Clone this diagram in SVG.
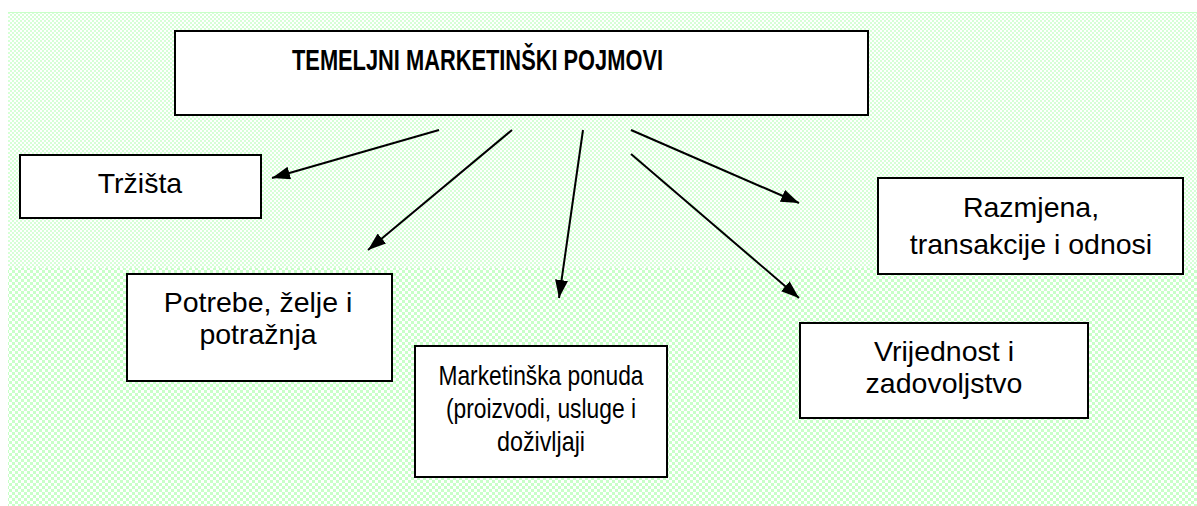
<svg xmlns="http://www.w3.org/2000/svg" width="1197" height="506" viewBox="0 0 1197 506">
  <defs>
    <pattern id="bgTop" x="0" y="0" width="4" height="4" patternUnits="userSpaceOnUse">
      <rect width="4" height="4" fill="#ffffff"/>
      <rect x="0" y="0" width="2" height="2" fill="#d6ffd6"/>
      <rect x="2" y="2" width="2" height="2" fill="#d6ffd6"/>
    </pattern>
    <pattern id="bgBottom" x="0" y="0" width="6" height="6" patternUnits="userSpaceOnUse">
      <rect width="6" height="6" fill="#ffffff"/>
      <rect x="0" y="0" width="3" height="3" fill="#c8ffc8"/>
      <rect x="3" y="3" width="3" height="3" fill="#c8ffc8"/>
    </pattern>
    <marker id="ah" viewBox="0 0 18 13" refX="18" refY="6.5" markerWidth="18" markerHeight="13" markerUnits="userSpaceOnUse" orient="auto">
      <path d="M0,0 L18,6.5 L0,13 Z" fill="#000"/>
    </marker>
  </defs>
  <style>
    .box { fill: #ffffff; stroke: #000000; stroke-width: 2; }
    .lbl { font-family: "Liberation Sans", Arial, sans-serif; font-size: 28.5px; fill: #000; text-anchor: middle; }
    .title { font-family: "Liberation Sans", Arial, sans-serif; font-size: 30px; font-weight: bold; fill: #000; }
    .conn { stroke: #000; stroke-width: 2; fill: none; marker-end: url(#ah); }
  </style>

  <rect x="8" y="12" width="1189" height="494" fill="url(#bgTop)"/>
  <rect x="8" y="268" width="1189" height="238" fill="url(#bgBottom)"/>
  <line x1="8" y1="12.5" x2="1197" y2="12.5" stroke="#c8ffc8" stroke-width="1"/>

  <g id="title">
    <rect class="box" x="175" y="31" width="693" height="84"/>
    <text class="title" x="292" y="70" textLength="371" lengthAdjust="spacingAndGlyphs">TEMELJNI MARKETINŠKI POJMOVI</text>
  </g>

  <g id="trzista">
    <rect class="box" x="20" y="155" width="241" height="63"/>
    <text class="lbl" x="140" y="193">Tržišta</text>
  </g>

  <g id="potrebe">
    <rect class="box" x="127" y="274" width="265" height="107"/>
    <text class="lbl" x="258" y="312">Potrebe, želje i</text>
    <text class="lbl" x="258" y="344">potražnja</text>
  </g>

  <g id="ponuda">
    <rect class="box" x="415" y="346" width="252" height="131"/>
    <text class="lbl" x="541" y="385" textLength="205" lengthAdjust="spacingAndGlyphs">Marketinška ponuda</text>
    <text class="lbl" x="541" y="418" textLength="190" lengthAdjust="spacingAndGlyphs">(proizvodi, usluge i</text>
    <text class="lbl" x="541" y="451" textLength="88" lengthAdjust="spacingAndGlyphs">doživljaji</text>
  </g>

  <g id="vrijednost">
    <rect class="box" x="800" y="323" width="288" height="95"/>
    <text class="lbl" x="944" y="361">Vrijednost i</text>
    <text class="lbl" x="944" y="393">zadovoljstvo</text>
  </g>

  <g id="razmjena">
    <rect class="box" x="878" y="178" width="305" height="96"/>
    <text class="lbl" x="1031" y="217">Razmjena,</text>
    <text class="lbl" x="1031" y="254">transakcije i odnosi</text>
  </g>

  <g id="connectors">
    <line class="conn" x1="439" y1="130" x2="272" y2="178"/>
    <line class="conn" x1="512" y1="130" x2="368" y2="250"/>
    <line class="conn" x1="583" y1="130" x2="559" y2="298"/>
    <line class="conn" x1="631" y1="130" x2="799" y2="203"/>
    <line class="conn" x1="631" y1="154" x2="799" y2="298"/>
  </g>
</svg>
